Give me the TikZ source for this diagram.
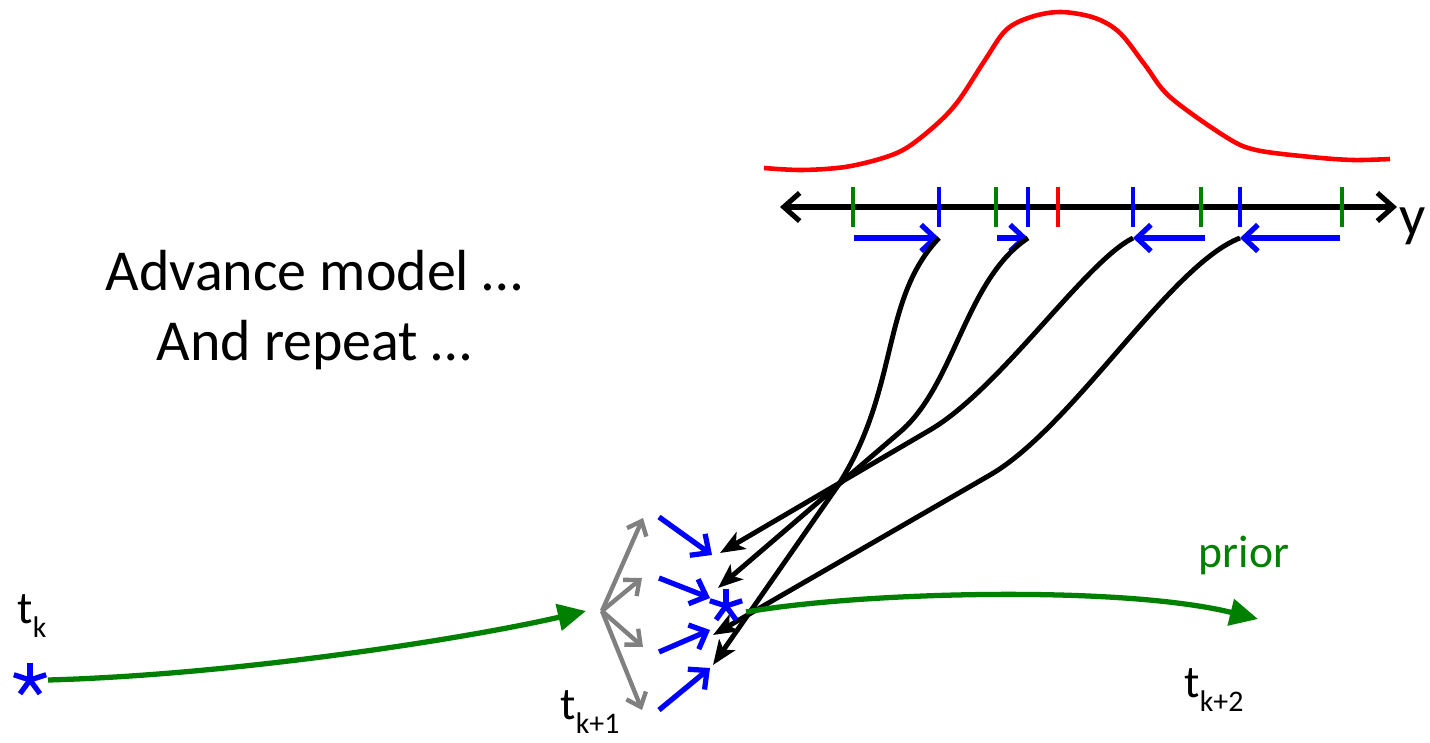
\documentclass[tikz,border=0pt]{standalone}
\usepackage{fontspec}
\setmainfont{Carlito}
\usepackage{xcolor}
\usetikzlibrary{arrows.meta}
\definecolor{priorgreen}{RGB}{0,128,0}
\newcommand{\tlab}[1]{t\raisebox{-0.32em}{\fontsize{17}{17}\selectfont #1}}

\begin{document}
\begin{tikzpicture}[x=0.02cm,y=-0.02cm,line join=round,
  obs/.style={blue,line width=3pt,-{Straight Barb[length=8pt,width=15pt]}},
  wrap/.style={black,line width=2.8pt,-{Stealth[length=14pt,width=11pt,inset=3.5pt]}},
  pert/.style={gray,line width=2.5pt,-{Straight Barb[length=7pt,width=12pt]}},
  traj/.style={priorgreen,line width=3pt,-{Triangle[length=16pt,width=15pt]}},
  tickmark/.style={line width=2.5pt},
  lbl/.style={font=\fontsize{26}{30}\selectfont,inner sep=0pt},
  ast/.pic={\foreach \a in {-90,-18,-162,126,54}
    \draw[blue,line width=3pt] (0,0) -- (\a:17);}]
  \useasboundingbox (0,0) rectangle (1430,743);
  % likelihood
  \draw[red,line width=2.6pt] plot[smooth,tension=0.55] coordinates {(764,168) (802,170) (845,167)
    (883,158) (908,147) (938,123) (959,100) (985,60) (1006,30) (1031,17) (1061,12) (1095,18)
    (1120,33) (1145,65) (1170,97) (1226,137) (1256,150) (1311,157) (1353,160) (1390,159)};
  % observation axis
  \coordinate (AX0) at (780,207);
  \coordinate (AX1) at (1397,207);
  \draw[line width=2.9pt,{Straight Barb[length=9pt,width=16pt]}-{Straight Barb[length=9pt,width=16pt]}] (AX0) -- (AX1);
  \node[font=\fontsize{33}{40}\selectfont,inner sep=0pt] (Y) at (1413,226) {y};
  \foreach \x/\c in {853/priorgreen,996/priorgreen,1201/priorgreen,1342/priorgreen,
                     939/blue,1028/blue,1133/blue,1240/blue,1058/red}
    \draw[tickmark,\c] (\x,187) -- (\x,227);
  % members moved toward the obs
  \coordinate (M1) at (854,238);  \coordinate (N1) at (939,238);
  \coordinate (M2) at (997,238);  \coordinate (N2) at (1028,238);
  \coordinate (M3) at (1205,238); \coordinate (N3) at (1133,238);
  \coordinate (M4) at (1340,238); \coordinate (N4) at (1240,238);
  \draw[obs] (M1) -- (N1);
  \draw[obs] (M2) -- (N2);
  \draw[obs] (M3) -- (N3);
  \draw[obs] (M4) -- (N4);
  % ensemble at t_{k+1}
  \coordinate (S0) at (30,680);
  \coordinate (S1) at (726,606);
  \coordinate (E1) at (720,553);
  \coordinate (E2) at (718,588);
  \coordinate (E3) at (713,635);
  \coordinate (E4) at (713,665);
  \draw[wrap] (N1) .. controls (880,300) and (900,390) .. (837,487) -- (E4);
  \draw[wrap] (N2) .. controls (965,280) and (955,385) .. (900,432) -- (E2);
  \draw[wrap] (N3) .. controls (1085,262) and (1000,389) .. (930,430) -- (E1);
  \draw[wrap] (N4) .. controls (1170,265) and (1073,427) .. (990,475) -- (E3);
  \coordinate (F) at (602,611);
  \draw[pert] (F) -- (643,518);
  \draw[pert] (F) -- (642,578);
  \draw[pert] (F) -- (643,647);
  \draw[pert] (F) -- (642,710);
  \draw[obs] (659,517) -- (712,555);
  \draw[obs] (659,578) -- (710,598);
  \draw[obs] (659,652) -- (710,630);
  \draw[obs] (659,710) -- (710,668);
  % prior trajectory
  \coordinate (G0) at (48,680);
  \coordinate (G1) at (586,611);
  \coordinate (G2) at (746,612);
  \coordinate (G3) at (1258,619);
  \draw[traj] (G0) .. controls (230,675) and (460,640) .. (G1);
  \draw[traj] (G2) .. controls (860,592) and (1120,585) .. (G3);
  \pic at (S0) {ast};
  \pic at (S1) {ast};
  \node[lbl,priorgreen] (PR) at (1244,555) {prior};
  \node[lbl] (TK) at (32,616) {\tlab{k}};
  \node[lbl] (TK1) at (590,712) {\tlab{k+1}};
  \node[lbl] (TK2) at (1214,690) {\tlab{k+2}};
  \node[font=\fontsize{33}{40}\selectfont,align=center] (TXT) at (314,310) {Advance model …\\And repeat …};
\end{tikzpicture}
\end{document}
